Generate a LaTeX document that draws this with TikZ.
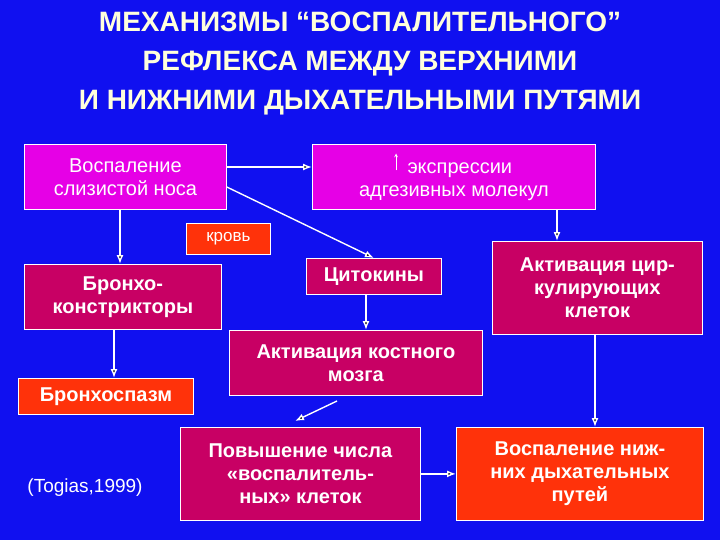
\documentclass[tikz,border=0pt]{standalone}
\usepackage{fontspec}
\setmainfont{Liberation Sans}
\usetikzlibrary{arrows.meta}
\begin{document}
\begin{tikzpicture}[x=1pt,y=-1pt,
 bx/.style={draw=white,line width=0.8pt,text=white,font=\bfseries\fontsize{20}{23}\selectfont,align=center,inner sep=0pt,anchor=north west},
 mag/.style={bx,fill={rgb,255:red,230;green,0;blue,230}},
 cri/.style={bx,fill={rgb,255:red,200;green,0;blue,100}},
 ora/.style={bx,fill={rgb,255:red,255;green,50;blue,10}},
 ar/.style={draw=white,line width=1.4pt,-{Latex[length=9pt,width=7pt]}}]
\useasboundingbox[fill={rgb,255:red,16;green,16;blue,240}] (0,0) rectangle (720,540);
\node (title) [text={rgb,255:red,255;green,255;blue,220},font=\bfseries\fontsize{28}{39}\selectfont,align=center] at (360,64) {МЕХАНИЗМЫ “ВОСПАЛИТЕЛЬНОГО”\\РЕФЛЕКСА МЕЖДУ ВЕРХНИМИ\\И НИЖНИМИ ДЫХАТЕЛЬНЫМИ ПУТЯМИ};
\node (a) [mag,font=\fontsize{20}{23}\selectfont,minimum width=202pt,minimum height=65pt] at (24,144) {Воспаление\\слизистой носа};
\node (b) [mag,font=\fontsize{20}{23}\selectfont,minimum width=283pt,minimum height=65pt] at (312,144) {\tikz[baseline=0pt]\draw[white,line width=0.7pt,-stealth](0,-3)--(0,-20);\ \ экспрессии\\адгезивных молекул};
\node (k) [ora,font=\fontsize{17}{19}\selectfont,minimum width=84pt,minimum height=31pt] at (186,223) {кровь};
\node (c) [cri,minimum width=197pt,minimum height=65pt] at (24,264) {Бронхо-\\констрикторы};
\node (d) [cri,minimum width=135pt,minimum height=36pt] at (306,258) {Цитокины};
\node (e) [cri,minimum width=210pt,minimum height=93pt] at (492,241) {Активация цир-\\кулирующих\\клеток};
\node (f) [cri,minimum width=253pt,minimum height=65pt] at (229,330) {Активация костного\\мозга};
\node (g) [ora,minimum width=175pt,minimum height=36pt] at (18,378) {Бронхоспазм};
\node (h) [cri,minimum width=240pt,minimum height=93pt] at (180,427) {Повышение числа\\«воспалитель-\\ных» клеток};
\node (i) [ora,minimum width=247pt,minimum height=93pt] at (456,427) {Воспаление ниж-\\них дыхательных\\путей};
\node (t) [text=white,font=\fontsize{19}{21}\selectfont] at (85,488) {(Togias,1999)};
\coordinate (fs) at (337,401);
\coordinate (he) at (295,421);
\draw[ar] (a.east |- 0,167) -- (b.west |- 0,167);
\draw[ar] (a.east |- 0,187) -- (d.north);
\draw[ar] (a.south -| 120,0) -- (c.north -| 120,0);
\draw[ar] (b.south -| 557,0) -- (e.north -| 557,0);
\draw[ar] (d.south -| 366,0) -- (f.north -| 366,0);
\draw[ar] (c.south -| 114,0) -- (g.north -| 114,0);
\draw[ar] (fs) -- (he);
\draw[ar] (e.south -| 595,0) -- (i.north -| 595,0);
\draw[ar] (h.east) -- (i.west);
\end{tikzpicture}
\end{document}
